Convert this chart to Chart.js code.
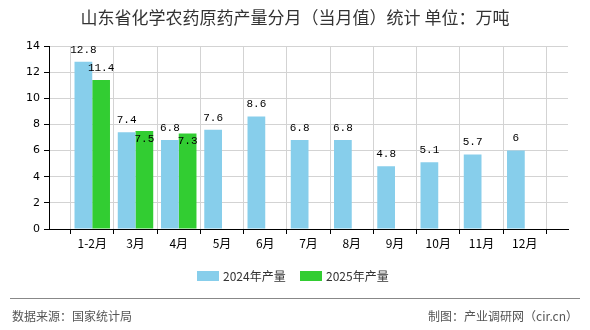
<!DOCTYPE html>
<html>
<head>
<meta charset="utf-8">
<script src="https://cdn.jsdelivr.net/npm/chart.js@4/dist/chart.umd.min.js"></script>
<style>
  html, body { margin: 0; padding: 0; background: #fff; }
  #wrap { width: 590px; height: 330px; position: relative; }
</style>
</head>
<body>
<div id="wrap"><canvas id="myChart" width="590" height="330"></canvas></div>
<script>
// data
let months = ['1-2月', '3月', '4月', '5月', '6月', '7月', '8月', '9月', '10月', '11月', '12月'];
let prod2024 = [12.8, 7.4, 6.8, 7.6, 8.6, 6.8, 6.8, 4.8, 5.1, 5.7, 6];
let prod2025 = [11.4, 7.5, 7.3, null, null, null, null, null, null, null, null];
let seriesNames = ['2024年产量', '2025年产量'];
let yTicks = [0, 2, 4, 6, 8, 10, 12, 14];

let titleText = '山东省化学农药原药产量分月（当月值）统计 单位：万吨';
let sourceText = '数据来源：国家统计局';
let makerText = '制图：产业调研网（cir.cn）';

const cjk = '"Noto Sans CJK SC", "Noto Sans", sans-serif';

// the axis has one empty slot on each end, like the original
let padded = arr => [null].concat(arr, [null]);

// draws title, labels on bars, legend and footer
const extras = {
    id: 'extras',
    afterDraw(chart) {
        let ctx = chart.ctx;
        ctx.save();

        // title
        ctx.fillStyle = '#333';
        ctx.font = '17px ' + cjk;
        ctx.textAlign = 'center';
        ctx.textBaseline = 'middle';
        ctx.fillText(titleText, 295, 18);

        // value labels
        ctx.font = '11px "Liberation Mono", monospace';
        ctx.fillStyle = '#000';
        let m0 = chart.getDatasetMeta(0);
        let m1 = chart.getDatasetMeta(1);
        months.forEach((m, i) => {
            let b0 = m0.data[i + 1];
            ctx.fillText(String(prod2024[i]), b0.x, b0.y - 12);
            let v = prod2025[i];
            if (v === null) return;
            let b1 = m1.data[i + 1];
            // close to the 2024 label -> put it just inside the bar
            let close = Math.abs(v - prod2024[i]) < 1;
            ctx.fillText(String(v), b1.x, close ? b1.y + 8 : b1.y - 12);
        });

        // legend
        let colors = ['#87CEEB', '#32CD32'];
        let lx = [197, 300];
        ctx.font = '12px ' + cjk;
        ctx.textAlign = 'left';
        for (let k = 0; k < 2; k++) {
            ctx.fillStyle = colors[k];
            ctx.fillRect(lx[k], 271, 22, 10);
            ctx.fillStyle = '#333';
            ctx.fillText(seriesNames[k], lx[k] + 26, 276);
        }

        // footer
        ctx.strokeStyle = '#888';
        ctx.lineWidth = 1;
        ctx.beginPath();
        ctx.moveTo(10, 298.5);
        ctx.lineTo(580, 298.5);
        ctx.stroke();
        ctx.fillStyle = '#555';
        ctx.font = '12px ' + cjk;
        ctx.textAlign = 'left';
        ctx.fillText(sourceText, 12, 316);
        ctx.textAlign = 'right';
        ctx.fillText(makerText, 578, 316);
        ctx.restore();
    }
};

const config = {
    type: 'bar',
    data: {
        labels: padded(months).map(l => l === null ? '' : l),
        datasets: [{
            label: seriesNames[0],
            backgroundColor: '#87CEEB',
            data: padded(prod2024),
        },
        {
            label: seriesNames[1],
            backgroundColor: '#32CD32',
            data: padded(prod2025),
        }]
    },
    options: {
        responsive: false,
        animation: false,
        events: [],
        categoryPercentage: 0.82,
        barPercentage: 1,
        layout: { padding: { top: 46, right: 22, left: 0, bottom: 0 } },
        plugins: {
            legend: { display: false },
            title: { display: false },
            tooltip: { enabled: false },
        },
        scales: {
            x: {
                offset: false,
                grid: { color: '#d3d3d3', tickColor: '#000', tickLength: 5 },
                border: { color: '#000' },
                ticks: { color: '#000', font: { size: 12, family: cjk }, maxRotation: 0, autoSkip: false, padding: 2 },
                afterFit: s => { s.height = 101; }
            },
            y: {
                min: 0,
                max: 14,
                afterBuildTicks: s => { s.ticks = yTicks.map(v => ({ value: v })); },
                grid: { color: '#d3d3d3', tickColor: '#000', tickLength: 5 },
                border: { color: '#000' },
                ticks: { color: '#000', font: { size: 11, family: '"DejaVu Sans", sans-serif' }, padding: 4 },
                afterFit: s => { s.width = 49; }
            }
        }
    },
    plugins: [extras]
};

let myChart = new Chart(document.getElementById('myChart'), config);
</script>
</body>
</html>
